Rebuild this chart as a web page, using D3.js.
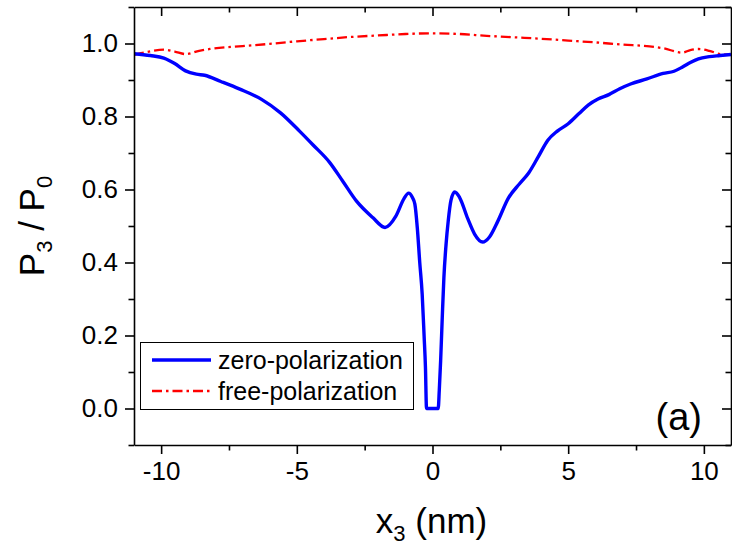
<!DOCTYPE html>
<html>
<head>
<meta charset="utf-8">
<script src="https://cdn.jsdelivr.net/npm/d3@7"></script>
<style>
  html, body { margin: 0; padding: 0; background: #fff; }
  svg { display: block; font-family: "Liberation Sans", Arial, sans-serif; }
</style>
</head>
<body>
<svg id="chart" width="732" height="556"></svg>
<script>
// Position along x3 (nm) and normalized P3/P0 for the two boundary conditions
const zeroX = [-11.0, -10.4, -9.9, -9.5, -9.1, -8.7, -8.4, -7.8, -7.1, -6.3, -5.6, -4.9, -4.4, -3.8, -3.3, -2.8, -2.2, -1.75, -1.35, -1.05, -0.88, -0.74, -0.65, -0.56, -0.47, -0.38, -0.31, -0.26, -0.22, 0.21, 0.25, 0.30, 0.36, 0.42, 0.50, 0.58, 0.68, 0.82, 1.0, 1.3, 1.55, 1.85, 2.1, 2.4, 2.8, 3.2, 3.55, 3.9, 4.25, 4.6, 5.0, 5.4, 5.75, 6.1, 6.5, 6.9, 7.3, 7.9, 8.5, 8.9, 9.2, 9.5, 9.8, 10.2, 10.6, 11.0];
const zeroPol = [0.972, 0.967, 0.960, 0.945, 0.925, 0.916, 0.913, 0.896, 0.875, 0.847, 0.810, 0.760, 0.722, 0.675, 0.622, 0.568, 0.523, 0.496, 0.527, 0.575, 0.590, 0.578, 0.560, 0.495, 0.400, 0.313, 0.200, 0.113, 0.0, 0.0, 0.050, 0.131, 0.250, 0.359, 0.450, 0.514, 0.570, 0.593, 0.578, 0.520, 0.478, 0.456, 0.470, 0.512, 0.577, 0.615, 0.646, 0.690, 0.735, 0.760, 0.780, 0.808, 0.832, 0.848, 0.860, 0.876, 0.889, 0.903, 0.918, 0.924, 0.935, 0.948, 0.958, 0.964, 0.967, 0.970];

const freeX = [-11.0, -10.5, -9.9, -9.5, -9.1, -8.6, -8.2, -7.0, -6.0, -5.0, -4.0, -3.0, -2.0, -1.0, 0.0, 1.0, 2.0, 3.0, 4.0, 5.0, 6.0, 7.0, 8.0, 8.5, 9.2, 9.5, 9.8, 10.2, 10.6, 11.0];
const freePol = [0.969, 0.977, 0.983, 0.978, 0.971, 0.980, 0.985, 0.993, 0.999, 1.006, 1.012, 1.018, 1.022, 1.026, 1.028, 1.026, 1.021, 1.017, 1.013, 1.008, 1.003, 0.997, 0.992, 0.987, 0.975, 0.982, 0.985, 0.980, 0.971, 0.969];

const xMajor = [-10, -5, 0, 5, 10];
const xMinor = [-7.5, -2.5, 2.5, 7.5];
const yMajor = [0.0, 0.2, 0.4, 0.6, 0.8, 1.0];
const yMinor = [-0.1, 0.1, 0.3, 0.5, 0.7, 0.9, 1.1];

const seriesNames = ["zero-polarization", "free-polarization"];

const svg = d3.select("#chart");
const m = { left: 134, right: 731, top: 7, bottom: 445 };

const x = d3.scaleLinear().domain([-11, 11]).range([m.left, m.right]);
const y = d3.scaleLinear().domain([-0.1, 1.1]).range([m.bottom, m.top]);

svg.append("clipPath").attr("id", "clip")
  .append("rect").attr("x", m.left).attr("y", m.top)
  .attr("width", m.right - m.left).attr("height", m.bottom - m.top);

const line = d3.line().x(d => x(d[0])).y(d => y(d[1])).curve(d3.curveMonotoneX);

const zeroData = zeroX.map((v, i) => [v, zeroPol[i]]);
const freeData = freeX.map((v, i) => [v, freePol[i]]);

const redDash = "10,4,2.5,4";

const curves = svg.append("g").attr("clip-path", "url(#clip)");
curves.append("path").datum(freeData)
  .attr("d", line).attr("fill", "none").attr("stroke", "#ff0000")
  .attr("stroke-width", 2.3).attr("stroke-dasharray", redDash);
curves.append("path").datum(zeroData)
  .attr("d", line).attr("fill", "none").attr("stroke", "#0000ff")
  .attr("stroke-width", 3.4).attr("stroke-linejoin", "round");

// Axes: outward ticks with labels on bottom/left, inward ticks mirrored top/right
function styleAxis(g) {
  g.selectAll("path.domain").attr("stroke", "#000").attr("stroke-width", 1.6);
  g.selectAll(".tick line").attr("stroke", "#000").attr("stroke-width", 1.6);
}
function minorTicks(axis, pos) {
  svg.append("g").attr("transform", pos)
    .call(axis.tickSize(5.5).tickSizeOuter(0).tickFormat(""))
    .call(g => g.select("path.domain").remove()).call(styleAxis);
}
const fmtY = d3.format(".1f");
const fmtX = d => (d < 0 ? "-" : "") + Math.abs(d);

const axBottom = svg.append("g").attr("transform", `translate(0,${m.bottom})`)
  .call(d3.axisBottom(x).tickValues(xMajor).tickSize(9).tickSizeOuter(0).tickPadding(8).tickFormat(fmtX));
axBottom.call(styleAxis);
axBottom.selectAll("text").attr("font-size", 26).attr("fill", "#000");
minorTicks(d3.axisBottom(x).tickValues(xMinor), `translate(0,${m.bottom})`);

const axLeft = svg.append("g").attr("transform", `translate(${m.left},0)`)
  .call(d3.axisLeft(y).tickValues(yMajor).tickSize(9).tickSizeOuter(0).tickPadding(7).tickFormat(fmtY));
axLeft.call(styleAxis);
axLeft.selectAll("text").attr("font-size", 26).attr("fill", "#000");
minorTicks(d3.axisLeft(y).tickValues(yMinor), `translate(${m.left},0)`);

const axTop = svg.append("g").attr("transform", `translate(0,${m.top})`)
  .call(d3.axisBottom(x).tickValues(xMajor).tickSize(9).tickSizeOuter(0).tickFormat(""));
axTop.call(styleAxis);
minorTicks(d3.axisBottom(x).tickValues(xMinor), `translate(0,${m.top})`);

const axRight = svg.append("g").attr("transform", `translate(${m.right},0)`)
  .call(d3.axisLeft(y).tickValues(yMajor).tickSize(9).tickSizeOuter(0).tickFormat(""));
axRight.call(styleAxis);
minorTicks(d3.axisLeft(y).tickValues(yMinor), `translate(${m.right},0)`);

// Axis titles with subscripts
const xt = svg.append("text").attr("x", (m.left + m.right) / 2 - 1).attr("y", 533)
  .attr("text-anchor", "middle").attr("font-size", 35).attr("fill", "#000");
xt.append("tspan").text("x");
xt.append("tspan").attr("font-size", 22).attr("dy", 8).text("3");
xt.append("tspan").attr("dy", -8).text(" (nm)");

const yt = svg.append("text")
  .attr("transform", `translate(44,${(m.top + m.bottom) / 2}) rotate(-90)`)
  .attr("text-anchor", "middle").attr("font-size", 35).attr("fill", "#000");
yt.append("tspan").text("P");
yt.append("tspan").attr("font-size", 22).attr("dy", 8).text("3");
yt.append("tspan").attr("dy", -8).text(" / P");
yt.append("tspan").attr("font-size", 22).attr("dy", 8).text("0");

// Legend
const lg = svg.append("g");
lg.append("rect").attr("x", 140.5).attr("y", 342.5).attr("width", 273).attr("height", 67)
  .attr("fill", "#fff").attr("stroke", "#000").attr("stroke-width", 1);
const legendStyles = [
  { color: "#0000ff", width: 3.4, dash: null },
  { color: "#ff0000", width: 2.3, dash: redDash }
];
seriesNames.forEach((name, i) => {
  const cy = 360 + i * 31;
  lg.append("line").attr("x1", 152).attr("x2", 211).attr("y1", cy).attr("y2", cy)
    .attr("stroke", legendStyles[i].color).attr("stroke-width", legendStyles[i].width)
    .attr("stroke-dasharray", legendStyles[i].dash);
  lg.append("text").attr("x", 218).attr("y", cy + 9).attr("font-size", 25)
    .attr("fill", "#000").text(name);
});

// Panel tag
svg.append("text").attr("x", 702).attr("y", 430).attr("text-anchor", "end")
  .attr("font-size", 38).attr("fill", "#000").text("(a)");
</script>
</body>
</html>
